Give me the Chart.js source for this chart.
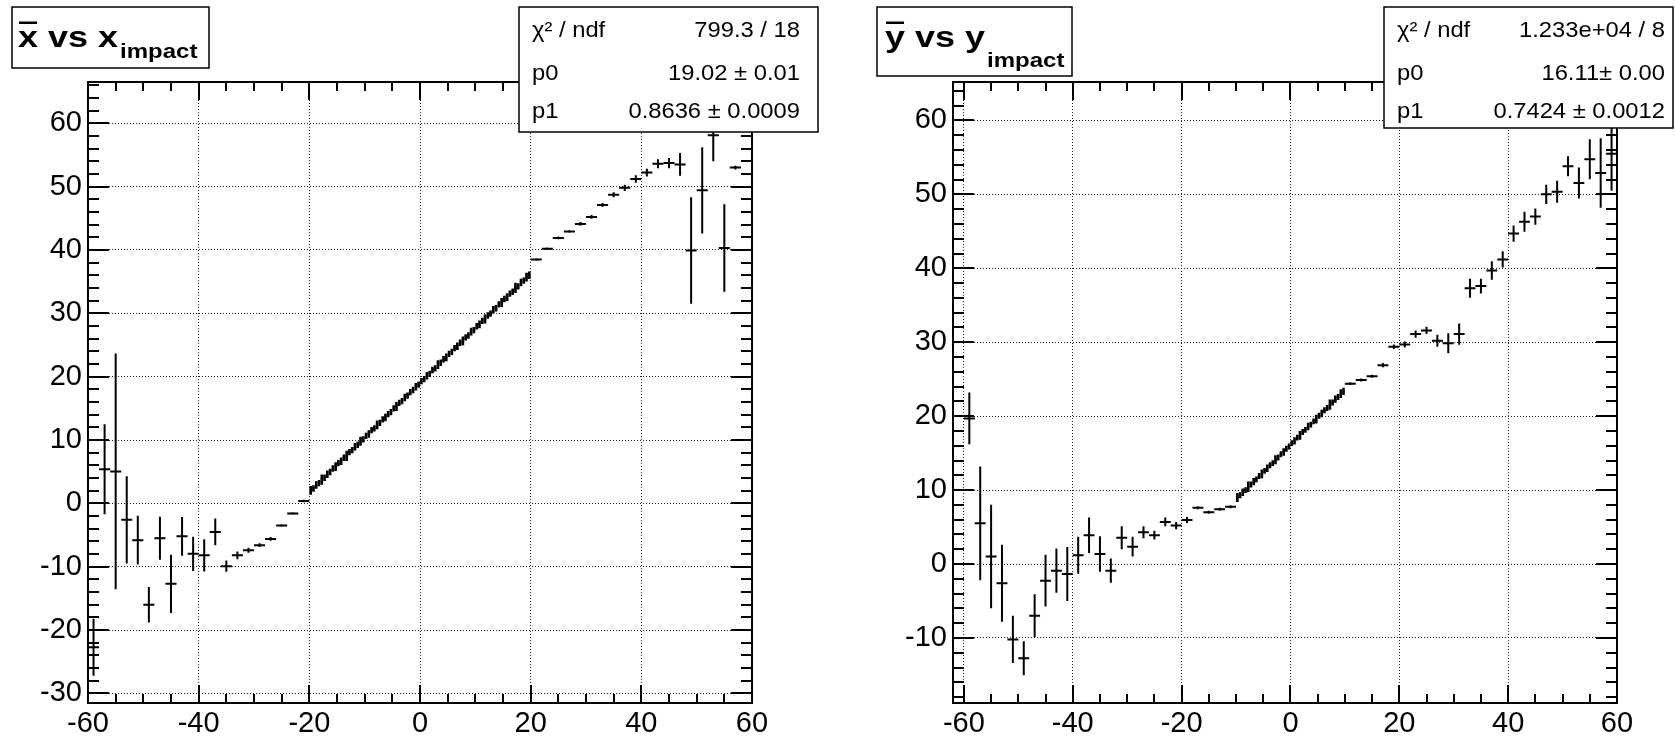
<!DOCTYPE html>
<html>
<head>
<meta charset="utf-8">
<title>x vs x impact / y vs y impact</title>
<script src="https://cdn.jsdelivr.net/npm/chart.js@4.4.1/dist/chart.umd.min.js"></script>
<style>
  html, body { margin: 0; padding: 0; background: #fff; overflow: hidden; }
  #wrap { position: relative; width: 1675px; height: 737px; background: #fff; }
  canvas { position: absolute; top: 0; }
</style>
</head>
<body>
<div id="wrap">
  <canvas id="xChart" width="837" height="737" style="left:0;width:837px;height:737px"></canvas>
  <canvas id="yChart" width="838" height="737" style="left:837px;width:838px;height:737px"></canvas>
</div>
<script>
// ---- x profile (left pad) ----
// wide bins (2 units) outside the central region
var xWideImpact = [-59, -57, -55, -53, -51, -49, -47, -45, -43, -41, -39, -37, -35, -33, -31, -29, -27, -25, -23, -21,
                   21, 23, 25, 27, 29, 31, 33, 35, 37, 39, 41, 43, 45, 47, 49, 51, 53, 55, 57];
var xWideMean = [-22.7, 5.4, 5.05, -2.6, -5.8, -16.0, -5.5, -12.7, -5.2, -7.95, -8.2, -4.5, -9.9, -8.2, -7.4, -6.6, -5.6, -3.5, -1.6, 0.37,
                 38.5, 40.2, 41.9, 42.9, 44.1, 45.2, 47.1, 48.7, 49.8, 51.2, 52.2, 53.6, 53.7, 53.5, 39.9, 49.4, 58.1, 40.3, 53.0];
var xWideErr = [4.5, 7.1, 18.6, 6.9, 3.85, 2.8, 3.4, 4.6, 3.05, 2.7, 2.55, 2.1, 0.87, 0.6, 0.4, 0.3, 0.3, 0.2, 0.2, 0.2,
                0.2, 0.2, 0.2, 0.2, 0.3, 0.3, 0.3, 0.4, 0.5, 0.6, 0.6, 0.7, 0.8, 1.8, 8.4, 6.8, 4.1, 6.9, 0.3];
// fine bins (0.5 units) from -20 to 20
var xFineImpact = [-19.75, -19.25, -18.75, -18.25, -17.75, -17.25, -16.75, -16.25, -15.75, -15.25,
                   -14.75, -14.25, -13.75, -13.25, -12.75, -12.25, -11.75, -11.25, -10.75, -10.25,
                   -9.75, -9.25, -8.75, -8.25, -7.75, -7.25, -6.75, -6.25, -5.75, -5.25,
                   -4.75, -4.25, -3.75, -3.25, -2.75, -2.25, -1.75, -1.25, -0.75, -0.25,
                   0.25, 0.75, 1.25, 1.75, 2.25, 2.75, 3.25, 3.75, 4.25, 4.75,
                   5.25, 5.75, 6.25, 6.75, 7.25, 7.75, 8.25, 8.75, 9.25, 9.75,
                   10.25, 10.75, 11.25, 11.75, 12.25, 12.75, 13.25, 13.75, 14.25, 14.75,
                   15.25, 15.75, 16.25, 16.75, 17.25, 17.75, 18.25, 18.75, 19.25, 19.75];
var xFineMean = [2.05, 2.35, 2.90, 3.20, 3.75, 4.05, 4.60, 4.95, 5.50, 5.80,
                 6.35, 6.65, 7.20, 7.50, 8.10, 8.40, 8.95, 9.25, 9.80, 10.10,
                 10.65, 10.95, 11.55, 11.85, 12.40, 12.70, 13.25, 13.55, 14.10, 14.40,
                 15.00, 15.30, 15.85, 16.15, 16.70, 17.00, 17.55, 17.90, 18.40, 18.75,
                 19.30, 19.60, 20.15, 20.45, 21.05, 21.30, 21.90, 22.20, 22.75, 23.05,
                 23.60, 23.90, 24.50, 24.80, 25.35, 25.65, 26.20, 26.50, 27.10, 27.35,
                 27.95, 28.25, 28.80, 29.10, 29.65, 29.95, 30.55, 30.80, 31.40, 31.70,
                 32.25, 32.55, 33.10, 33.40, 34.00, 34.25, 34.85, 35.15, 35.70, 36.00];
var xFineErr = [0.7, 0.5, 0.6, 0.5, 0.8, 0.5, 0.6, 0.5, 0.5, 0.7, 0.5, 0.6, 0.5, 0.8, 0.5, 0.5, 0.6, 0.5, 0.7, 0.5,
                0.5, 0.6, 0.5, 0.5, 0.7, 0.5, 0.5, 0.6, 0.5, 0.5, 0.5, 0.7, 0.5, 0.5, 0.6, 0.5, 0.5, 0.5, 0.6, 0.5,
                0.5, 0.5, 0.6, 0.5, 0.5, 0.5, 0.7, 0.5, 0.5, 0.6, 0.5, 0.5, 0.5, 0.6, 0.5, 0.7, 0.5, 0.5, 0.6, 0.5,
                0.5, 0.6, 0.5, 0.7, 0.5, 0.5, 0.6, 0.5, 0.5, 0.7, 0.5, 0.6, 0.5, 0.5, 0.8, 0.5, 0.6, 0.5, 0.7, 0.6];
var xPadXTicks = [-60, -40, -20, 0, 20, 40, 60];
var xPadYTicks = [-30, -20, -10, 0, 10, 20, 30, 40, 50, 60];
var xFitLabels = ["\u03c7\u00b2 / ndf", "p0", "p1"];
var xFitValues = ["799.3 / 18", "19.02 \u00b1 0.01", "0.8636 \u00b1 0.0009"];

// ---- y profile (right pad) ----
var yWideImpact = [-59, -57, -55, -53, -51, -49, -47, -45, -43, -41, -39, -37, -35, -33, -31, -29, -27, -25, -23, -21, -19, -17, -15, -13, -11,
                   11, 13, 15, 17, 19, 21, 23, 25, 27, 29, 31, 33, 35, 37, 39, 41, 43, 45, 47, 49, 51, 53, 55, 57, 59];
var yWideMean = [19.7, 5.5, 1.0, -2.6, -10.2, -12.75, -7.0, -2.25, -0.9, -1.35, 1.2, 3.9, 1.35, -0.9, 3.56, 2.35, 4.3, 3.9, 5.7, 5.2, 5.95, 7.6, 7.0, 7.4, 7.75,
                 24.4, 24.9, 25.4, 26.9, 29.4, 29.7, 31.1, 31.6, 30.2, 29.85, 31.1, 37.3, 37.6, 39.7, 41.2, 44.7, 46.3, 47.0, 50.0, 50.35, 53.8, 51.55, 54.75, 52.9, 55.5];
var yWideErr = [3.5, 7.7, 7.0, 5.2, 3.2, 2.3, 2.9, 3.5, 3.0, 3.65, 2.5, 2.4, 2.4, 1.65, 1.55, 1.35, 0.8, 0.6, 0.6, 0.5, 0.4, 0.2, 0.2, 0.2, 0.2,
                0.2, 0.2, 0.2, 0.3, 0.3, 0.4, 0.5, 0.5, 0.8, 1.35, 1.45, 1.3, 1.0, 1.25, 1.1, 1.1, 1.35, 1.1, 1.3, 1.5, 1.35, 2.1, 2.7, 4.7, 5.0];
var yFineImpact = [-9.75, -9.25, -8.75, -8.25, -7.75, -7.25, -6.75, -6.25, -5.75, -5.25,
                   -4.75, -4.25, -3.75, -3.25, -2.75, -2.25, -1.75, -1.25, -0.75, -0.25,
                   0.25, 0.75, 1.25, 1.75, 2.25, 2.75, 3.25, 3.75, 4.25, 4.75,
                   5.25, 5.75, 6.25, 6.75, 7.25, 7.75, 8.25, 8.75, 9.25, 9.75];
var yFineMean = [9.0, 9.3, 9.7, 10.0, 10.45, 10.75, 11.15, 11.45, 11.9, 12.2,
                 12.6, 12.95, 13.35, 13.65, 14.1, 14.4, 14.85, 15.15, 15.6, 15.9,
                 16.35, 16.65, 17.1, 17.4, 17.85, 18.15, 18.6, 18.85, 19.3, 19.6,
                 20.05, 20.35, 20.8, 21.1, 21.55, 21.85, 22.3, 22.6, 23.05, 23.35];
var yFineErr = [0.6, 0.4, 0.5, 0.4, 0.7, 0.4, 0.5, 0.4, 0.4, 0.6, 0.4, 0.5, 0.4, 0.4, 0.6, 0.4, 0.4, 0.5, 0.4, 0.4,
                0.4, 0.5, 0.4, 0.6, 0.4, 0.4, 0.5, 0.4, 0.4, 0.6, 0.4, 0.5, 0.4, 0.4, 0.7, 0.4, 0.5, 0.4, 0.6, 0.5];
var yPadXTicks = [-60, -40, -20, 0, 20, 40, 60];
var yPadYTicks = [-10, 0, 10, 20, 30, 40, 50, 60];
var yFitLabels = ["\u03c7\u00b2 / ndf", "p0", "p1"];
var yFitValues = ["1.233e+04 / 8", "16.11\u00b1 0.00", "0.7424 \u00b1 0.0012"];

var FONT = '"Liberation Sans", Arial, Helvetica, sans-serif';

function toPoints(xs, ys) {
    return xs.map(function (x, i) { return { x: x, y: ys[i] }; });
}

function minorValues(min, max, step) {
    var out = [];
    for (var k = Math.ceil(min / step - 1e-9); k * step <= max + 1e-9; k++) out.push(k * step);
    return out;
}

// error bars: horizontal = bin half width, vertical = error on the mean
var errorBars = {
    id: 'errorBars',
    afterDatasetsDraw: function (chart) {
        var ctx = chart.ctx, a = chart.chartArea;
        var sx = chart.scales.x, sy = chart.scales.y;
        ctx.save();
        ctx.beginPath();
        ctx.rect(a.left, a.top, a.right - a.left, a.bottom - a.top);
        ctx.clip();
        ctx.strokeStyle = '#000';
        chart.data.datasets.forEach(function (ds, i) {
            var meta = chart.getDatasetMeta(i);
            ctx.lineWidth = ds.barWidth;
            meta.data.forEach(function (el, j) {
                var p = ds.data[j];
                ctx.beginPath();
                ctx.moveTo(sx.getPixelForValue(p.x - ds.xHalf), el.y);
                ctx.lineTo(sx.getPixelForValue(p.x + ds.xHalf), el.y);
                ctx.moveTo(el.x, sy.getPixelForValue(p.y + ds.yErr[j]));
                ctx.lineTo(el.x, sy.getPixelForValue(p.y - ds.yErr[j]));
                ctx.stroke();
            });
        });
        ctx.restore();
    }
};

// ROOT-like frame with inward ticks on all four sides
var rootFrame = {
    id: 'rootFrame',
    afterDatasetsDraw: function (chart, args, opts) {
        var ctx = chart.ctx, a = chart.chartArea;
        var sx = chart.scales.x, sy = chart.scales.y;
        ctx.save();
        ctx.strokeStyle = '#000';
        ctx.lineWidth = 2;
        ctx.beginPath();
        minorValues(sx.min, sx.max, opts.xMinor).forEach(function (v) {
            var px = Math.round(sx.getPixelForValue(v));
            var len = opts.xMajor.indexOf(v) >= 0 ? 18 : 9;
            ctx.moveTo(px, a.bottom); ctx.lineTo(px, a.bottom - len);
            ctx.moveTo(px, a.top); ctx.lineTo(px, a.top + len);
        });
        minorValues(sy.min, sy.max, opts.yMinor).forEach(function (v) {
            var py = Math.round(sy.getPixelForValue(v));
            var len = opts.yMajor.indexOf(v) >= 0 ? 21 : 11;
            ctx.moveTo(a.left, py); ctx.lineTo(a.left + len, py);
            ctx.moveTo(a.right, py); ctx.lineTo(a.right - len, py);
        });
        ctx.stroke();
        ctx.strokeRect(a.left, a.top, a.right - a.left, a.bottom - a.top);
        ctx.restore();
    }
};

function stretchedText(ctx, text, x, y, font, sx, align) {
    ctx.save();
    ctx.font = font;
    ctx.textBaseline = 'alphabetic';
    var w = ctx.measureText(text).width * sx;
    var left = align === 'right' ? x - w : x;
    ctx.translate(left, y);
    ctx.scale(sx, 1);
    ctx.fillText(text, 0, 0);
    ctx.restore();
    return w;
}

// title box and fit statistics box
var rootBoxes = {
    id: 'rootBoxes',
    afterDraw: function (chart, args, o) {
        var ctx = chart.ctx;
        ctx.save();
        ctx.fillStyle = '#fff';
        ctx.strokeStyle = '#000';
        ctx.lineWidth = 1.5;
        // title
        var t = o.title;
        ctx.fillRect(t.x, t.y, t.w, t.h);
        ctx.strokeRect(t.x, t.y, t.w, t.h);
        ctx.fillStyle = '#000';
        var bold = 'bold 30px ' + FONT;
        ctx.font = bold;
        var firstW = ctx.measureText(t.sym).width * 1.2;
        var w = stretchedText(ctx, t.sym + ' vs ' + t.sym, t.tx, t.base, bold, 1.2);
        ctx.fillRect(t.tx + 1, t.barY, firstW - 2, 2.5);
        stretchedText(ctx, 'impact', t.tx + w + 2, t.subBase, 'bold 20px ' + FONT, 1.2);
        // stats
        var s = o.stats;
        ctx.fillStyle = '#fff';
        ctx.fillRect(s.x, s.y, s.w, s.h);
        ctx.strokeRect(s.x, s.y, s.w, s.h);
        ctx.fillStyle = '#000';
        var f = '22px ' + FONT;
        s.labels.forEach(function (lab, i) {
            stretchedText(ctx, lab, s.lx, s.rows[i], f, 1.08);
            stretchedText(ctx, s.values[i], s.rx, s.rows[i], f, 1.08, 'right');
        });
        ctx.restore();
    }
};

function makePad(canvasId, wide, fine, xr, yr, xTicks, yTicks, area, boxes) {
    var el = document.getElementById(canvasId);
    return new Chart(el, {
        type: 'scatter',
        data: {
            datasets: [
                { data: toPoints(wide[0], wide[1]), yErr: wide[2], xHalf: 1, barWidth: 2 },
                { data: toPoints(fine[0], fine[1]), yErr: fine[2], xHalf: 0.25, barWidth: 2.6 }
            ]
        },
        options: {
            responsive: false,
            animation: false,
            events: [],
            layout: { padding: { left: 0, top: area.top, right: el.width - area.right, bottom: 0 } },
            elements: { point: { radius: 0, hoverRadius: 0 } },
            scales: {
                x: {
                    type: 'linear', min: xr[0], max: xr[1],
                    afterBuildTicks: function (sc) { sc.ticks = xTicks.map(function (v) { return { value: v }; }); },
                    afterFit: function (sc) { sc.height = el.height - area.bottom; sc.paddingLeft = 0; sc.paddingRight = 0; },
                    grid: { color: '#222', lineWidth: 1, drawTicks: false },
                    border: { display: false, dash: [1, 2] },
                    ticks: { color: '#000', padding: 4, autoSkip: false, maxRotation: 0,
                             font: { family: FONT, size: 29 }, callback: function (v) { return String(v); } }
                },
                y: {
                    type: 'linear', min: yr[0], max: yr[1],
                    afterBuildTicks: function (sc) { sc.ticks = yTicks.map(function (v) { return { value: v }; }); },
                    afterFit: function (sc) { sc.width = area.left; sc.paddingTop = 0; sc.paddingBottom = 0; },
                    grid: { color: '#222', lineWidth: 1, drawTicks: false },
                    border: { display: false, dash: [1, 2] },
                    ticks: { color: '#000', padding: 6, autoSkip: false,
                             font: { family: FONT, size: 29 }, callback: function (v) { return String(v); } }
                }
            },
            plugins: {
                legend: { display: false },
                tooltip: { enabled: false },
                rootFrame: { xMinor: 5, yMinor: 2, xMajor: xTicks, yMajor: yTicks },
                rootBoxes: boxes
            }
        },
        plugins: [errorBars, rootFrame, rootBoxes]
    });
}

makePad('xChart',
    [xWideImpact, xWideMean, xWideErr], [xFineImpact, xFineMean, xFineErr],
    [-60, 60], [-31.5, 66.5], xPadXTicks, xPadYTicks,
    { left: 88, top: 82, right: 752, bottom: 703 },
    {
        title: { x: 12, y: 7, w: 197, h: 61, sym: 'x', tx: 18, base: 47, barY: 21.5, subBase: 57.5 },
        stats: { x: 519, y: 7, w: 299, h: 125, lx: 532, rx: 800, rows: [37, 80, 118],
                 labels: xFitLabels, values: xFitValues }
    });

makePad('yChart',
    [yWideImpact, yWideMean, yWideErr], [yFineImpact, yFineMean, yFineErr],
    [-62, 60], [-18.8, 65.2], yPadXTicks, yPadYTicks,
    { left: 116, top: 82, right: 780, bottom: 703 },
    {
        title: { x: 40, y: 7, w: 195, h: 69, sym: 'y', tx: 48, base: 47, barY: 21.5, subBase: 66.5 },
        stats: { x: 547, y: 7, w: 289, h: 121, lx: 560, rx: 828, rows: [37, 80, 118],
                 labels: yFitLabels, values: yFitValues }
    });
</script>
</body>
</html>
